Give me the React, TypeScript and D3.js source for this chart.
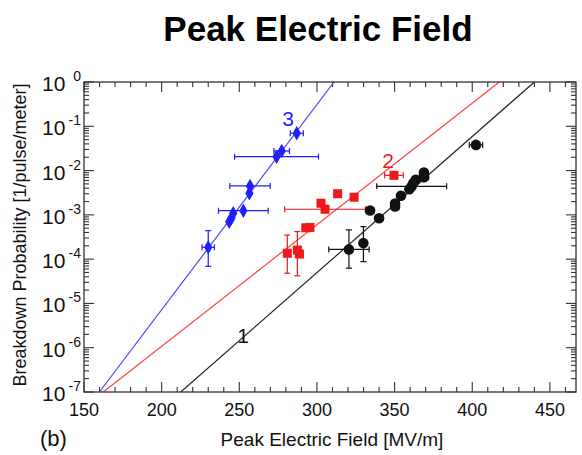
import React from 'react'
import * as d3 from 'd3'

// points: e = peak field [MV/m], p = breakdown probability, ex = field error, lo/hi = probability error range
type Pt = { e: number; p: number; ex?: number; lo?: number; hi?: number }

const set3: Pt[] = [
  { e: 287, p: 0.0695, ex: 4.2 },
  { e: 277.3, p: 0.0277, ex: 5 },
  { e: 274, p: 0.0206, ex: 27 },
  { e: 256.9, p: 0.00449, ex: 13 },
  { e: 256.5, p: 0.00307 },
  { e: 252.6, p: 0.00124, ex: 16 },
  { e: 246.1, p: 0.00109 },
  { e: 245, p: 0.00085 },
  { e: 243.5, p: 0.0007 },
  { e: 230, p: 0.000185, ex: 4, lo: 0.000069, hi: 0.00044 },
]

const set2: Pt[] = [
  { e: 349.6, p: 0.0078, ex: 6 },
  { e: 313.3, p: 0.003 },
  { e: 323.9, p: 0.0025 },
  { e: 302.6, p: 0.00183 },
  { e: 305.2, p: 0.00134, ex: 26 },
  { e: 292.8, p: 0.00051 },
  { e: 295.5, p: 0.00052 },
  { e: 280.9, p: 0.000136, lo: 0.000048, hi: 0.00035 },
  { e: 287.4, p: 0.00016, lo: 0.000042, hi: 0.00042 },
  { e: 288.7, p: 0.00013, ex: 2.5 },
]

const set1: Pt[] = [
  { e: 402.4, p: 0.038, ex: 4.3 },
  { e: 368.9, p: 0.009 },
  { e: 368.9, p: 0.0071, ex: 3 },
  { e: 363.6, p: 0.0062 },
  { e: 362, p: 0.0052 },
  { e: 361, p: 0.0044, ex: 22.5 },
  { e: 359.5, p: 0.0038 },
  { e: 354.1, p: 0.0027 },
  { e: 350.3, p: 0.0018 },
  { e: 350.3, p: 0.00155, ex: 2.5 },
  { e: 334.2, p: 0.00125, ex: 2.5 },
  { e: 340, p: 0.00084, ex: 2.5 },
  { e: 329.9, p: 0.00023, lo: 0.0000879, hi: 0.000542 },
  { e: 320.6, p: 0.000166, ex: 13, lo: 0.0000624, hi: 0.000457 },
]

// fit lines: field at 1e-7 and field at 1e0
const fit3 = [159.9, 311]
const fit2 = [162.4, 417.4]
const fit1 = [212.3, 440]

const xMajor = [150, 200, 250, 300, 350, 400, 450]
const yExponents = [0, -1, -2, -3, -4, -5, -6, -7]

const W = 582
const H = 455
const left = 84
const right = 576
const top = 82
const bottom = 392

const FONT = '"Liberation Sans", Arial, Helvetica, sans-serif'

const x = d3.scaleLinear().domain([150, 150 + (right - left) / 1.553]).range([left, right])
const y = d3.scaleLog().domain([1e-7, 1]).range([bottom, top])

const BLUE = '#1f1fff'
const RED = '#f01818'
const BLACK = '#111'

function ErrorBars({ pts, color }: { pts: Pt[]; color: string }) {
  const cap = 3
  return (
    <g stroke={color} strokeWidth={1.2} fill="none">
      {pts.map((d, i) => (
        <g key={i}>
          {d.ex ? (
            <>
              <line x1={x(d.e - d.ex)} x2={x(d.e + d.ex)} y1={y(d.p)} y2={y(d.p)} />
              <line x1={x(d.e - d.ex)} x2={x(d.e - d.ex)} y1={y(d.p) - cap} y2={y(d.p) + cap} />
              <line x1={x(d.e + d.ex)} x2={x(d.e + d.ex)} y1={y(d.p) - cap} y2={y(d.p) + cap} />
            </>
          ) : null}
          {d.lo && d.hi ? (
            <>
              <line x1={x(d.e)} x2={x(d.e)} y1={y(d.lo)} y2={y(d.hi)} />
              <line x1={x(d.e) - cap} x2={x(d.e) + cap} y1={y(d.lo)} y2={y(d.lo)} />
              <line x1={x(d.e) - cap} x2={x(d.e) + cap} y1={y(d.hi)} y2={y(d.hi)} />
            </>
          ) : null}
        </g>
      ))}
    </g>
  )
}

function FitLine({ ends, color }: { ends: number[]; color: string }) {
  return (
    <line
      x1={x(ends[0])}
      y1={y(1e-7)}
      x2={x(ends[1])}
      y2={y(1)}
      stroke={color}
      strokeWidth={1.2}
      clipPath="url(#plotClip)"
    />
  )
}

export default function App() {
  const xMinor = d3.range(150, 470, 10).filter(v => v % 50 !== 0)
  const yMinor: number[] = []
  for (let k = -7; k < 0; k++) {
    for (let m = 2; m <= 9; m++) yMinor.push(m * Math.pow(10, k))
  }
  const dia = d3.symbol().type(d3.symbolDiamond).size(60)()

  return (
    <svg
      width={W}
      height={H}
      style={{ position: 'absolute', left: 0, top: 0, background: '#fff' }}
      fontFamily={FONT}
    >
      <defs>
        <clipPath id="plotClip">
          <rect x={left} y={top} width={right - left} height={bottom - top} />
        </clipPath>
      </defs>

      <text x={318} y={41} textAnchor="middle" fontSize={35} fontWeight="bold" fill="#000">
        Peak Electric Field
      </text>

      {/* ticks */}
      <g stroke="#333" strokeWidth={1.1}>
        {xMajor.map(v => (
          <g key={'xM' + v}>
            <line x1={x(v)} x2={x(v)} y1={bottom} y2={bottom - 10} />
            <line x1={x(v)} x2={x(v)} y1={top} y2={top + 10} />
          </g>
        ))}
        {xMinor.map(v => (
          <g key={'xm' + v}>
            <line x1={x(v)} x2={x(v)} y1={bottom} y2={bottom - 5} />
            <line x1={x(v)} x2={x(v)} y1={top} y2={top + 5} />
          </g>
        ))}
        {yExponents.map(k => (
          <g key={'yM' + k}>
            <line x1={left} x2={left + 10} y1={y(Math.pow(10, k))} y2={y(Math.pow(10, k))} />
            <line x1={right} x2={right - 10} y1={y(Math.pow(10, k))} y2={y(Math.pow(10, k))} />
          </g>
        ))}
        {yMinor.map((v, i) => (
          <g key={'ym' + i}>
            <line x1={left} x2={left + 5} y1={y(v)} y2={y(v)} />
            <line x1={right} x2={right - 5} y1={y(v)} y2={y(v)} />
          </g>
        ))}
      </g>

      <FitLine ends={fit3} color="#4a4aff" />
      <FitLine ends={fit2} color="#ff4040" />
      <FitLine ends={fit1} color="#222" />

      <ErrorBars pts={set3} color={BLUE} />
      <ErrorBars pts={set2} color={RED} />
      <ErrorBars pts={set1} color={BLACK} />

      {set3.map((d, i) => (
        <path key={'b' + i} d={dia || ''} transform={`translate(${x(d.e)},${y(d.p)})`} fill={BLUE} />
      ))}
      {set2.map((d, i) => (
        <rect key={'r' + i} x={x(d.e) - 4.5} y={y(d.p) - 4.5} width={9} height={9} fill={RED} />
      ))}
      {set1.map((d, i) => (
        <circle key={'k' + i} cx={x(d.e)} cy={y(d.p)} r={5.3} fill={BLACK} />
      ))}

      <rect x={left} y={top} width={right - left} height={bottom - top} fill="none" stroke="#333" strokeWidth={1.3} />

      {/* tick labels */}
      <g fill="#111">
        {xMajor.map(v => (
          <text key={'xl' + v} x={x(v)} y={bottom + 24} textAnchor="middle" fontSize={18}>
            {v}
          </text>
        ))}
        {yExponents.map(k => (
          <g key={'yl' + k}>
            <text x={42} y={y(Math.pow(10, k)) + 9} fontSize={21}>
              10
            </text>
            <text x={81} y={y(Math.pow(10, k)) - 1} fontSize={14} textAnchor="end">
              {k}
            </text>
          </g>
        ))}
      </g>

      <text x={332} y={446} textAnchor="middle" fontSize={19} fill="#111">
        Peak Electric Field [MV/m]
      </text>
      <text
        transform={`translate(26,${(top + bottom) / 2 - 2}) rotate(-90)`}
        textAnchor="middle"
        fontSize={18}
        fill="#111"
      >
        Breakdown Probability [1/pulse/meter]
      </text>

      <text x={40} y={446} fontSize={22} fill="#111">
        (b)
      </text>

      <text x={288} y={126} textAnchor="middle" fontSize={21} fill={BLUE}>
        3
      </text>
      <text x={388} y={168} textAnchor="middle" fontSize={21} fill={RED}>
        2
      </text>
      <text x={243} y={343} textAnchor="middle" fontSize={21} fill="#111">
        1
      </text>
    </svg>
  )
}
